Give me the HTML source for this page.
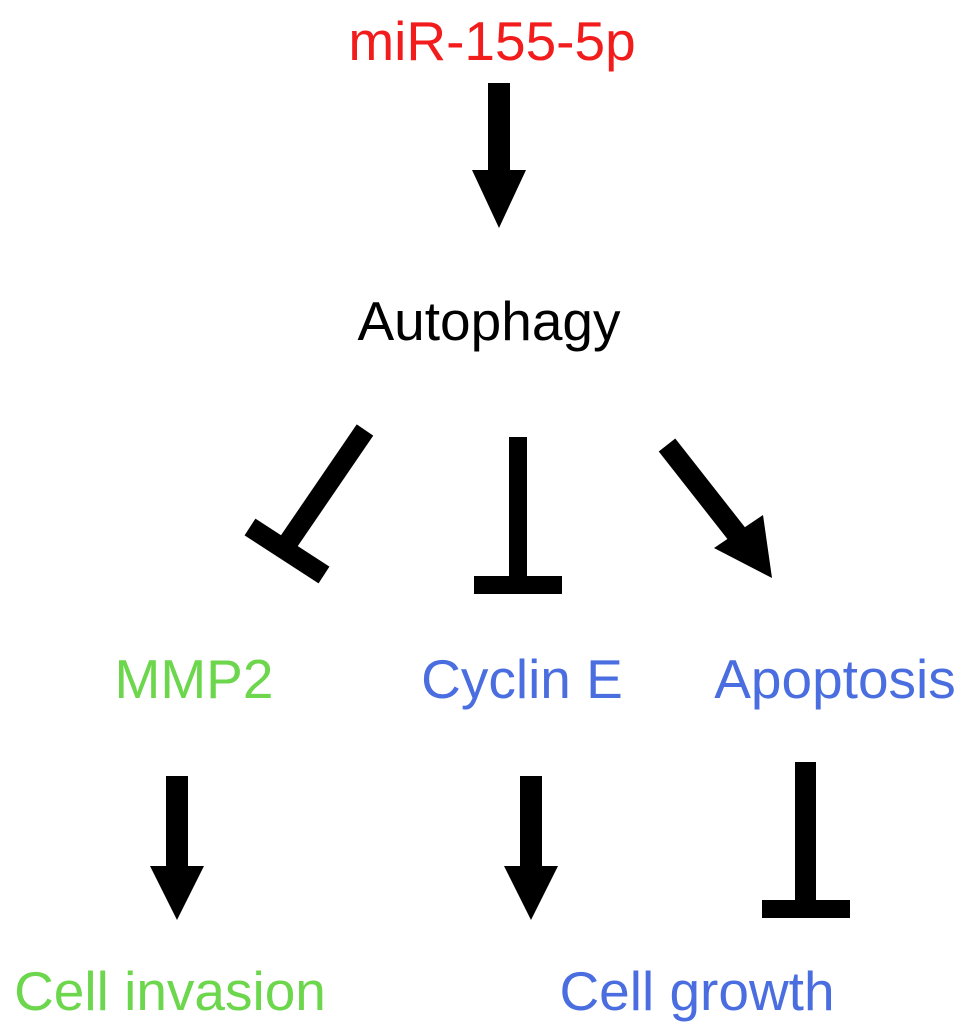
<!DOCTYPE html>
<html><head><style>html,body{margin:0;padding:0;background:#fff}svg{display:block}</style></head>
<body>
<svg width="969" height="1034" viewBox="0 0 969 1034" xmlns="http://www.w3.org/2000/svg" font-family="Liberation Sans, Arial, sans-serif" font-size="55">
<text x="492" y="60" fill="#f21c1c" text-anchor="middle">miR-155-5p</text>
<text x="489" y="340" fill="#000" text-anchor="middle">Autophagy</text>
<text x="194" y="698" fill="#6cd64c" text-anchor="middle">MMP2</text>
<text x="522" y="698" fill="#4a6ee0" text-anchor="middle">Cyclin E</text>
<text x="835" y="698" fill="#4a6ee0" text-anchor="middle">Apoptosis</text>
<text x="170" y="1010" fill="#6cd64c" text-anchor="middle">Cell invasion</text>
<text x="697" y="1010" fill="#4a6ee0" text-anchor="middle">Cell growth</text>
<g fill="#000" stroke="none">
<!-- top arrow -->
<rect x="488" y="83" width="22" height="90"/>
<polygon points="472,170 526,170 499,228"/>
<!-- T diag -->
<line x1="365" y1="430" x2="283" y2="550" stroke="#000" stroke-width="20"/>
<line x1="250" y1="527" x2="324" y2="575" stroke="#000" stroke-width="20"/>
<!-- T vertical -->
<rect x="509" y="437" width="18" height="145"/>
<rect x="474" y="576" width="88" height="18"/>
<!-- diag arrow -->
<line x1="667" y1="445" x2="740" y2="538" stroke="#000" stroke-width="21"/>
<polygon points="772,578 714,548 763,515"/>
<!-- bottom arrows -->
<rect x="166" y="776" width="22" height="93"/>
<polygon points="150,866 204,866 177,920"/>
<rect x="520" y="776" width="22" height="93"/>
<polygon points="504,866 558,866 531,920"/>
<rect x="795" y="762" width="21" height="142"/>
<rect x="762" y="900" width="88" height="18"/>
</g>
</svg>
</body></html>
